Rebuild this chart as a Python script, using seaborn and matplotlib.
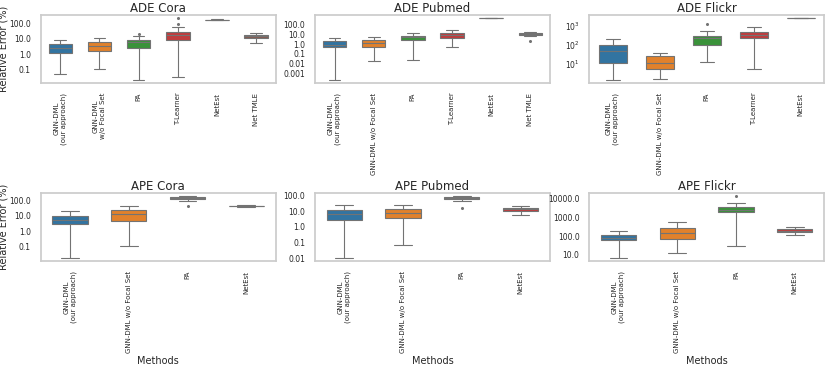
import numpy as np
import matplotlib
matplotlib.use("Agg")
import matplotlib.pyplot as plt
import matplotlib.ticker as mticker
import pandas as pd
import seaborn as sns

# method labels (as they appear on the x axis)
ade_cora_methods = ["GNN-DML\n(our approach)", "GNN-DML\nw/o Focal Set", "PA", "T-Learner", "NetEst", "Net TMLE"]
ade_pubmed_methods = ["GNN-DML\n(our approach)", "GNN-DML w/o Focal Set", "PA", "T-Learner", "NetEst", "Net TMLE"]
ade_flickr_methods = ["GNN-DML\n(our approach)", "GNN-DML w/o Focal Set", "PA", "T-Learner", "NetEst"]
ape_methods = ["GNN-DML\n(our approach)", "GNN-DML w/o Focal Set", "PA", "NetEst"]

# relative errors (%), one list per method
ade_cora_vals = [
    [0.05, 0.6, 1.2, 1.8, 2.5, 3.5, 4.8, 6.5, 8.7],
    [0.11, 0.8, 1.65, 2.4, 3.2, 4.5, 6.1, 9.0, 12.0],
    [0.02, 1.0, 2.6, 4.0, 6.4, 7.5, 8.7, 15.0, 22.0],
    [0.033, 2.0, 5.0, 8.5, 11.0, 15.0, 19.5, 22.0, 26.0, 30.0, 60.0, 100.0, 240.0],
    [185, 187, 188, 189, 190, 191, 192, 193, 195],
    [5.5, 9.0, 12.0, 13.5, 15.0, 17.0, 19.5, 22.0, 24.0],
]
ade_pubmed_vals = [
    [0.00025, 0.1, 0.45, 0.65, 0.86, 1.2, 1.8, 2.8, 3.7],
    [0.02, 0.2, 0.5, 0.8, 1.17, 1.8, 2.5, 3.5, 5.0],
    [0.027, 1.0, 2.7, 3.6, 4.6, 5.6, 6.8, 9.0, 11.7],
    [0.46, 1.5, 3.7, 5.5, 8.0, 10.5, 13.6, 20.0, 27.0],
    [395, 397, 398, 399, 400, 401, 402, 403, 405],
    [2.0, 5.8, 9.0, 10.0, 10.8, 11.5, 12.6, 13.5, 14.7],
]
ade_flickr_vals = [
    [1.4, 5.0, 11.0, 25.0, 46.0, 75.0, 104.0, 150.0, 210.0],
    [1.7, 3.0, 5.2, 8.0, 11.0, 18.0, 25.0, 30.0, 37.0],
    [12.3, 60.0, 100.0, 160.0, 220.0, 250.0, 290.0, 560.0, 1180.0],
    [5.6, 100.0, 220.0, 280.0, 340.0, 400.0, 470.0, 650.0, 840.0],
    [2440, 2450, 2460, 2465, 2470, 2475, 2480, 2490, 2500],
]
ape_cora_vals = [
    [0.019, 1.0, 3.0, 4.2, 5.5, 7.5, 10.0, 15.0, 20.0],
    [0.12, 2.0, 5.0, 9.0, 14.0, 18.0, 23.0, 35.0, 47.0],
    [43, 90, 116, 125, 135, 148, 160, 175, 190],
    [40, 42, 43, 44, 45, 46, 47, 48, 50],
]
ape_pubmed_vals = [
    [0.0105, 0.8, 2.8, 4.5, 6.4, 9.0, 12.0, 18.0, 25.0],
    [0.066, 1.0, 3.6, 5.5, 8.0, 10.5, 13.0, 20.0, 26.0],
    [16, 43, 58, 62, 67, 74, 82, 86, 90],
    [5.5, 8.0, 11.0, 12.0, 12.8, 14.0, 15.6, 18.0, 20.0],
]
ape_flickr_vals = [
    [6.9, 30, 61, 70, 82, 95, 113, 150, 190],
    [12.7, 40, 69, 100, 140, 190, 255, 400, 530],
    [31, 900, 1850, 2200, 2500, 2900, 3400, 5500, 12800],
    [113, 135, 157, 175, 192, 215, 245, 280, 313],
]

sns.set_theme(style="whitegrid")
plt.rcParams['font.family'] = ['DejaVu Sans']


def to_frame(methods, vals):
    rows = []
    for m, v in zip(methods, vals):
        for x in v:
            rows.append((m, x))
    return pd.DataFrame(rows, columns=["method", "value"])


def draw(ax, title, methods, vals, plain_ticks=True):
    df = to_frame(methods, vals)
    sns.boxplot(data=df, x="method", y="value", hue="method", order=methods,
                hue_order=methods, palette="tab10", width=0.6, fliersize=1.2,
                linewidth=0.8, linecolor="0.45", legend=False, ax=ax,
                flierprops={"markeredgecolor": "0.45", "markerfacecolor": "0.45"})
    ax.set_yscale("log")
    ax.yaxis.set_major_locator(mticker.LogLocator(base=10, numticks=20))
    ax.grid(False)
    if plain_ticks:
        ax.yaxis.set_major_formatter(mticker.FuncFormatter(lambda v, p: str(float(v))))
    ax.set_title(title, fontsize=8.5, pad=2)
    ax.set_xlabel("")
    ax.set_ylabel("")
    ax.tick_params(axis="x", labelrotation=90, labelsize=5, pad=1)
    ax.tick_params(axis="y", labelsize=5.5, pad=1)


fig, axes = plt.subplots(2, 3, figsize=(8.3, 3.74), dpi=100)
fig.subplots_adjust(left=0.049, right=0.993, top=0.96, bottom=0.302, wspace=0.167, hspace=1.62)

draw(axes[0, 0], "ADE Cora", ade_cora_methods, ade_cora_vals)
draw(axes[0, 1], "ADE Pubmed", ade_pubmed_methods, ade_pubmed_vals)
draw(axes[0, 2], "ADE Flickr", ade_flickr_methods, ade_flickr_vals, plain_ticks=False)
axes[0, 2].set_ylim(1.02, None)
draw(axes[1, 0], "APE Cora", ape_methods, ape_cora_vals)
draw(axes[1, 1], "APE Pubmed", ape_methods, ape_pubmed_vals)
draw(axes[1, 2], "APE Flickr", ape_methods, ape_flickr_vals)

for ax in axes[:, 0]:
    ax.set_ylabel("Relative Error (%)", fontsize=7)
    ax.yaxis.set_label_coords(-0.135, 0.5)
for ax in axes[1, :]:
    ax.set_xlabel("Methods", fontsize=7, labelpad=2)

fig.savefig("out.png", dpi=100)
